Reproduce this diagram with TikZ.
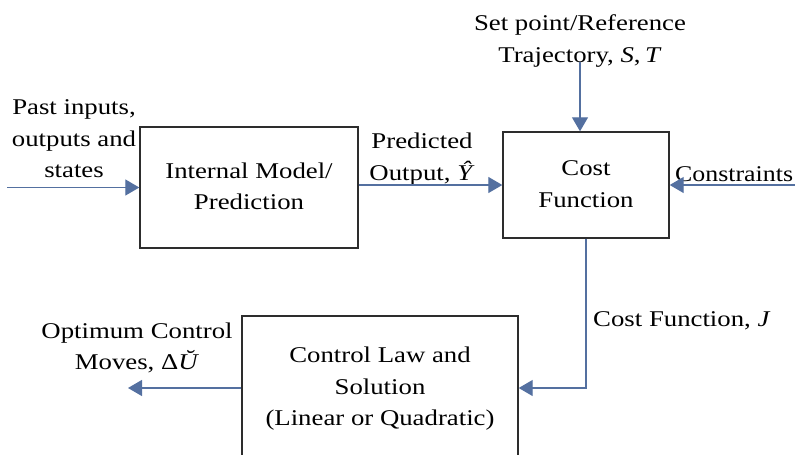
\documentclass[tikz,border=0pt]{standalone}
\usepackage{graphicx}
\usepackage{fontspec}
\setmainfont{Liberation Serif}
\usetikzlibrary{arrows.meta}
\definecolor{lnblue}{RGB}{84,112,160}
\definecolor{bxgray}{RGB}{45,45,45}
\newcommand\sxt[1]{\scalebox{1.19}[1]{\begin{tabular}{@{}c@{}}#1\end{tabular}}}
\newcommand\sxo[1]{\scalebox{1.19}[1]{#1}}
\begin{document}
\begin{tikzpicture}[x=1pt,y=-1pt,
  every node/.style={font=\fontsize{22.5}{31.5}\selectfont, align=center, inner sep=0pt},
  blk/.style={draw=bxgray, line width=1.4pt},
  conn/.style={draw=lnblue, line width=1.3pt, -{Triangle[length=14pt,width=16pt,fill=lnblue]}}]
\useasboundingbox (0,0) rectangle (795,455);
\clip (0,0) rectangle (795,455);
% blocks
\node[blk, minimum width=218pt, minimum height=121pt] (model) at (249,187.5) {\sxt{Internal Model/\\Prediction}};
\node[blk, minimum width=166pt, minimum height=106pt] (cost) at (586,185) {\sxt{Cost\\Function}};
\node[blk, minimum width=276pt, minimum height=144pt] (ctl) at (380,388) {\sxt{Control Law and\\Solution\\(Linear or Quadratic)}};
% labels
\node (past) at (74,140) {\sxt{Past inputs,\\outputs and\\states}};
\node (pred) at (422,158) {\sxt{Predicted\\Output, \textit{Ŷ}}};
\node (sp) at (580,40) {\sxt{Set point/Reference\\Trajectory, \textit{S},\,\textit{T}}};
\node[anchor=base west] (cons) at (675,181) {\scalebox{1.15}[1]{Constraints}};
\node[anchor=base west] (cfj) at (593,326) {\sxo{Cost Function, \textit{J}}};
\node (opt) at (137,347.5) {\sxt{Optimum Control\\Moves, Δ\textit{Ŭ}}};
% free ends
\coordinate (inA) at (7,187.5);
\coordinate (consA) at (800,185);
\coordinate (spA) at (580,62);
\coordinate (outA) at (128,388);
% connectors
\draw[conn] (inA) -- (model.west);
\draw[conn] (model.east |- cost.west) -- (cost.west);
\draw[conn] (consA) -- (cost.east);
\draw[conn] (spA) -- (spA |- cost.north);
\draw[conn] (cost.south) |- (ctl.east);
\draw[conn] (ctl.west) -- (outA);
\end{tikzpicture}
\end{document}
